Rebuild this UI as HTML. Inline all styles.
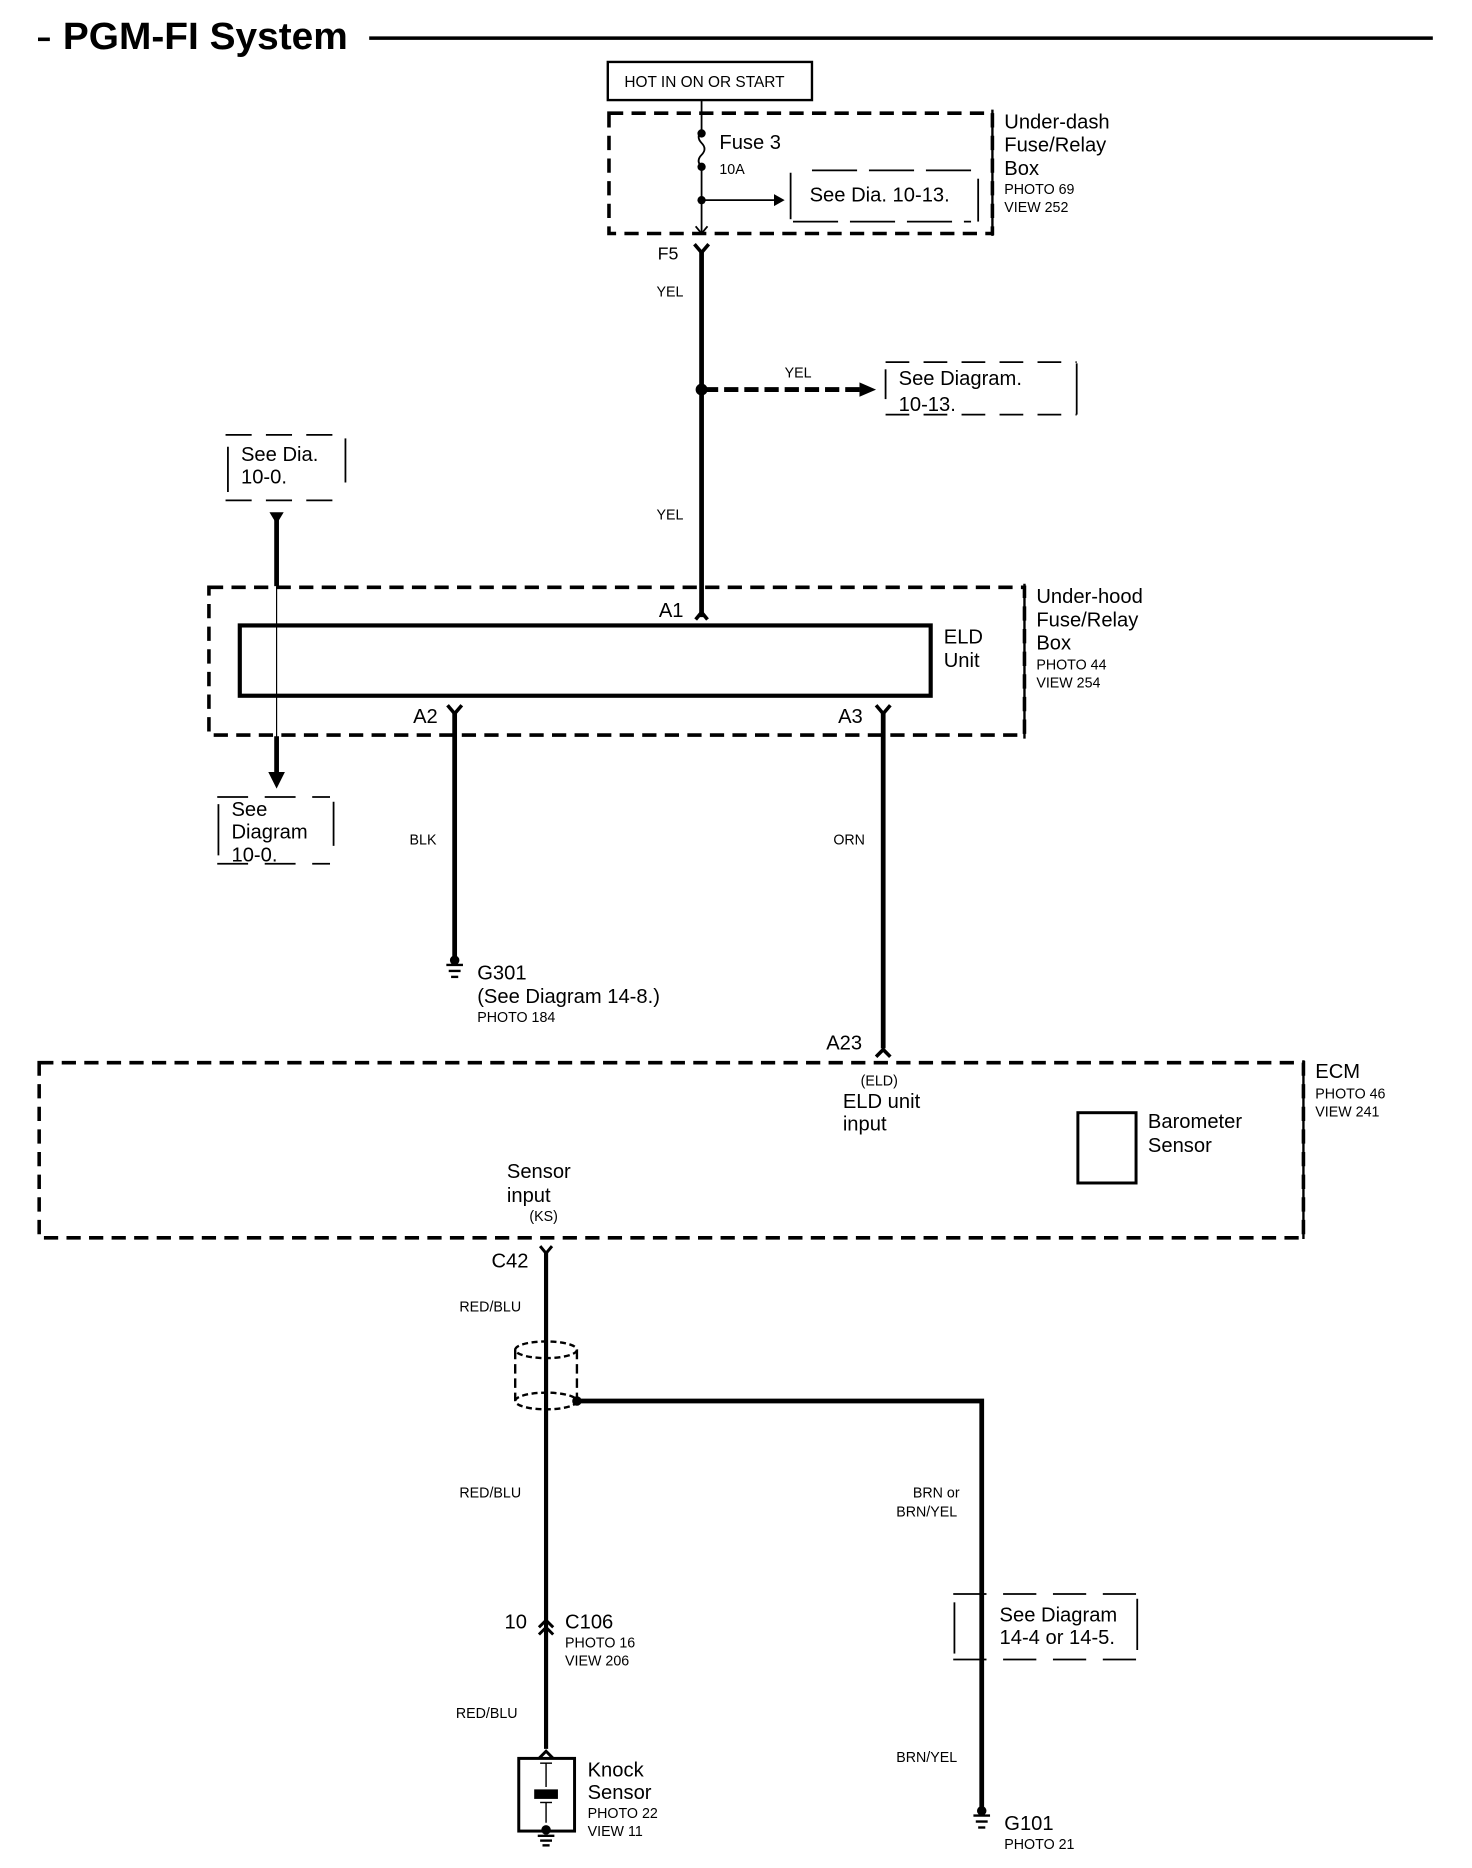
<!DOCTYPE html>
<html><head><meta charset="utf-8"><style>
html,body{margin:0;padding:0;background:#fff;}
svg{display:block;}
text{font-family:"Liberation Sans Narrow","Liberation Sans",sans-serif;fill:#000;}
</style></head><body>
<svg width="1472" height="1868" viewBox="0 0 1240 1568" preserveAspectRatio="none" xmlns="http://www.w3.org/2000/svg">
<g stroke="#000" fill="none">
<line x1="32" y1="33" x2="42" y2="33" stroke-width="3"/>
<line x1="311" y1="32" x2="1207" y2="32" stroke-width="3"/>
<rect x="512" y="52" width="172" height="32" stroke-width="2"/>
<rect x="513" y="95" width="323" height="101" stroke-width="3" stroke-dasharray="12,7"/>
<line x1="836" y1="92" x2="836" y2="198" stroke-width="2"/>
<line x1="591" y1="84" x2="591" y2="110" stroke-width="1.5"/>
<path d="M591 110 q-5 5 0 10 q5 5 0 10 q-5 5 0 10" stroke-width="1.5"/>
<line x1="591" y1="140" x2="591" y2="196" stroke-width="1.5"/>
<line x1="591" y1="168" x2="652" y2="168" stroke-width="1.5"/>
<line x1="666" y1="145" x2="666" y2="184" stroke-width="1.5"/>
<line x1="824" y1="150" x2="824" y2="186" stroke-width="1.5"/>
<line x1="684" y1="143" x2="824" y2="143" stroke-width="1.5" stroke-dasharray="38,10"/>
<line x1="668" y1="186" x2="818" y2="186" stroke-width="1.5" stroke-dasharray="38,10"/>
<path d="M586 190 l5 6 l5 -6" stroke-width="1.5"/>
<line x1="591" y1="210" x2="591" y2="518" stroke-width="4"/>
<path d="M585 205 l6 7 l6 -7" stroke-width="3"/>
<line x1="593" y1="327" x2="724" y2="327" stroke-width="4" stroke-dasharray="12,5"/>
<line x1="746" y1="310" x2="746" y2="335" stroke-width="1.5"/>
<line x1="907" y1="305" x2="907" y2="348" stroke-width="1.5"/>
<line x1="746" y1="304" x2="907" y2="304" stroke-width="1.5" stroke-dasharray="20,12"/>
<line x1="746" y1="348" x2="907" y2="348" stroke-width="1.5" stroke-dasharray="20,12"/>
<line x1="190" y1="365" x2="292" y2="365" stroke-width="1.5" stroke-dasharray="22,12"/>
<line x1="190" y1="420" x2="292" y2="420" stroke-width="1.5" stroke-dasharray="22,12"/>
<line x1="192" y1="375" x2="192" y2="413" stroke-width="1.5"/>
<line x1="291" y1="368" x2="291" y2="405" stroke-width="1.5"/>
<line x1="233" y1="432" x2="233" y2="492" stroke-width="4"/>
<line x1="233" y1="492" x2="233" y2="620" stroke-width="1"/>
<line x1="233" y1="618" x2="233" y2="652" stroke-width="4"/>
<rect x="176" y="493" width="687" height="124" stroke-width="3" stroke-dasharray="12,7"/>
<line x1="863" y1="490" x2="863" y2="620" stroke-width="2"/>
<rect x="202" y="525" width="582" height="59" stroke-width="3.5"/>
<path d="M586 520 l5 -6 l5 6" stroke-width="3"/>
<line x1="383" y1="598" x2="383" y2="806" stroke-width="4"/>
<path d="M377 592 l6 7 l6 -7" stroke-width="3"/>
<line x1="744" y1="598" x2="744" y2="880" stroke-width="4"/>
<path d="M738 592 l6 7 l6 -7" stroke-width="3"/>
<path d="M738 887 l6 -6 l6 6" stroke-width="3"/>
<line x1="183" y1="669" x2="278" y2="669" stroke-width="1.5" stroke-dasharray="26,14"/>
<line x1="183" y1="725" x2="278" y2="725" stroke-width="1.5" stroke-dasharray="26,14"/>
<line x1="184" y1="675" x2="184" y2="718" stroke-width="1.5"/>
<line x1="281" y1="673" x2="281" y2="710" stroke-width="1.5"/>
<line x1="376" y1="810" x2="390" y2="810" stroke-width="2"/>
<line x1="378" y1="815" x2="388" y2="815" stroke-width="2"/>
<line x1="380" y1="820" x2="386" y2="820" stroke-width="2"/>
<rect x="33" y="892" width="1065" height="147" stroke-width="3" stroke-dasharray="12,7"/>
<line x1="1098" y1="890" x2="1098" y2="1040" stroke-width="2"/>
<rect x="908" y="934" width="49" height="59" stroke-width="2.5"/>
<line x1="460" y1="1050" x2="460" y2="1468" stroke-width="3.5"/>
<path d="M455 1046 l5 6 l5 -6" stroke-width="2.5"/>
<ellipse cx="460" cy="1133" rx="26" ry="7" stroke-width="2" stroke-dasharray="5,3"/>
<ellipse cx="460" cy="1176" rx="26" ry="7" stroke-width="2" stroke-dasharray="5,3"/>
<line x1="434" y1="1133" x2="434" y2="1176" stroke-width="2" stroke-dasharray="8,4"/>
<line x1="486" y1="1133" x2="486" y2="1176" stroke-width="2" stroke-dasharray="8,4"/>
<polyline points="486,1176 827,1176 827,1520" stroke-width="4"/>
<path d="M454 1366 l6 -6 l6 6 M454 1372 l6 -6 l6 6" stroke-width="2.5"/>
<path d="M454 1476 l6 -6 l6 6" stroke-width="2.5"/>
<line x1="803" y1="1338" x2="958" y2="1338" stroke-width="1.5" stroke-dasharray="28,14"/>
<line x1="803" y1="1393" x2="958" y2="1393" stroke-width="1.5" stroke-dasharray="28,14"/>
<line x1="804" y1="1345" x2="804" y2="1388" stroke-width="1.5"/>
<line x1="958" y1="1342" x2="958" y2="1385" stroke-width="1.5"/>
<rect x="437" y="1476" width="47" height="61" stroke-width="2.5"/>
<line x1="460" y1="1480" x2="460" y2="1500" stroke-width="1.2"/>
<line x1="455" y1="1480" x2="465" y2="1480" stroke-width="1.2"/>
<line x1="460" y1="1513" x2="460" y2="1530" stroke-width="1.2"/>
<line x1="455" y1="1513" x2="465" y2="1513" stroke-width="1.2"/>
<line x1="453" y1="1541" x2="467" y2="1541" stroke-width="2"/>
<line x1="455" y1="1545" x2="465" y2="1545" stroke-width="2"/>
<line x1="457" y1="1549" x2="463" y2="1549" stroke-width="2"/>
<line x1="820" y1="1524" x2="834" y2="1524" stroke-width="2"/>
<line x1="822" y1="1529" x2="832" y2="1529" stroke-width="2"/>
<line x1="824" y1="1534" x2="830" y2="1534" stroke-width="2"/>
</g>
<g fill="#000">
<circle cx="591" cy="112" r="3.5"/><circle cx="591" cy="140" r="3.5"/><circle cx="591" cy="168" r="3.5"/>
<polygon points="652,163 661,168 652,173"/>
<circle cx="591" cy="327" r="5"/>
<polygon points="724,321 738,327 724,333"/>
<polygon points="227,430 239,430 233,440"/>
<polygon points="226,648 240,648 233,662"/>
<circle cx="383" cy="806" r="4"/>
<circle cx="486" cy="1176" r="4"/>
<rect x="450" y="1502" width="20" height="8"/>
<circle cx="460" cy="1536" r="4"/>
<circle cx="827" cy="1520" r="4"/>
</g>
<g>
<text x="53" y="41" font-size="32" font-weight="bold" font-family="Liberation Sans,sans-serif" textLength="240" lengthAdjust="spacingAndGlyphs">PGM-FI System</text>
<text x="526" y="73" font-size="13">HOT IN ON OR START</text>
<text x="606" y="125" font-size="17">Fuse 3</text>
<text x="606" y="146" font-size="12">10A</text>
<text x="682" y="169" font-size="17">See Dia. 10-13.</text>
<text x="846" y="108" font-size="17">Under-dash</text>
<text x="846" y="127" font-size="17">Fuse/Relay</text>
<text x="846" y="147" font-size="17">Box</text>
<text x="846" y="163" font-size="12">PHOTO 69</text>
<text x="846" y="178" font-size="12">VIEW 252</text>
<text x="554" y="218" font-size="15">F5</text>
<text x="553" y="249" font-size="12">YEL</text>
<text x="661" y="317" font-size="12">YEL</text>
<text x="757" y="323" font-size="17">See Diagram.</text>
<text x="757" y="345" font-size="17">10-13.</text>
<text x="553" y="436" font-size="12">YEL</text>
<text x="203" y="387" font-size="17">See Dia.</text>
<text x="203" y="406" font-size="17">10-0.</text>
<text x="555" y="518" font-size="17">A1</text>
<text x="795" y="540" font-size="17">ELD</text>
<text x="795" y="560" font-size="17">Unit</text>
<text x="873" y="506" font-size="17">Under-hood</text>
<text x="873" y="526" font-size="17">Fuse/Relay</text>
<text x="873" y="545" font-size="17">Box</text>
<text x="873" y="562" font-size="12">PHOTO 44</text>
<text x="873" y="577" font-size="12">VIEW 254</text>
<text x="348" y="607" font-size="17">A2</text>
<text x="706" y="607" font-size="17">A3</text>
<text x="195" y="685" font-size="17">See</text>
<text x="195" y="704" font-size="17">Diagram</text>
<text x="195" y="723" font-size="17">10-0.</text>
<text x="345" y="709" font-size="12">BLK</text>
<text x="702" y="709" font-size="12">ORN</text>
<text x="402" y="822" font-size="17">G301</text>
<text x="402" y="842" font-size="17">(See Diagram 14-8.)</text>
<text x="402" y="858" font-size="12">PHOTO 184</text>
<text x="696" y="881" font-size="17">A23</text>
<text x="725" y="911" font-size="12">(ELD)</text>
<text x="710" y="930" font-size="17">ELD unit</text>
<text x="710" y="949" font-size="17">input</text>
<text x="967" y="947" font-size="17">Barometer</text>
<text x="967" y="967" font-size="17">Sensor</text>
<text x="1108" y="905" font-size="17">ECM</text>
<text x="1108" y="922" font-size="12">PHOTO 46</text>
<text x="1108" y="937" font-size="12">VIEW 241</text>
<text x="427" y="989" font-size="17">Sensor</text>
<text x="427" y="1009" font-size="17">input</text>
<text x="446" y="1025" font-size="12">(KS)</text>
<text x="414" y="1064" font-size="17">C42</text>
<text x="387" y="1101" font-size="12">RED/BLU</text>
<text x="387" y="1257" font-size="12">RED/BLU</text>
<text x="769" y="1257" font-size="12">BRN or</text>
<text x="755" y="1273" font-size="12">BRN/YEL</text>
<text x="425" y="1367" font-size="17">10</text>
<text x="476" y="1367" font-size="17">C106</text>
<text x="476" y="1383" font-size="12">PHOTO 16</text>
<text x="476" y="1398" font-size="12">VIEW 206</text>
<text x="842" y="1361" font-size="17">See Diagram</text>
<text x="842" y="1380" font-size="17">14-4 or 14-5.</text>
<text x="384" y="1442" font-size="12">RED/BLU</text>
<text x="755" y="1479" font-size="12">BRN/YEL</text>
<text x="495" y="1491" font-size="17">Knock</text>
<text x="495" y="1510" font-size="17">Sensor</text>
<text x="495" y="1526" font-size="12">PHOTO 22</text>
<text x="495" y="1541" font-size="12">VIEW 11</text>
<text x="846" y="1536" font-size="17">G101</text>
<text x="846" y="1552" font-size="12">PHOTO 21</text>
</g>
</svg>
</body></html>
